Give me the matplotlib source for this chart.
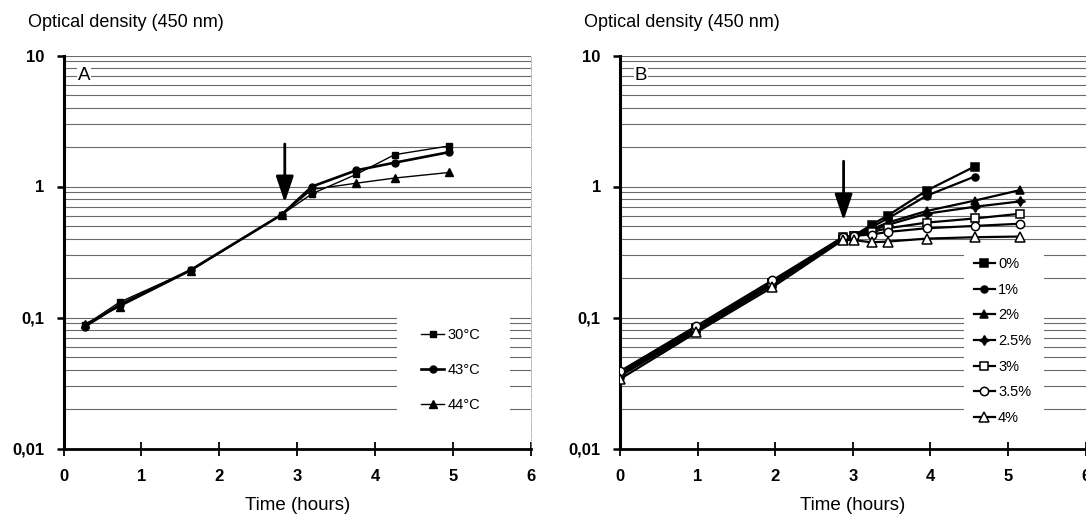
import matplotlib
matplotlib.use('Agg')
import matplotlib.pyplot as plt
from matplotlib.ticker import LogLocator, NullFormatter
from matplotlib.patches import Rectangle

plt.rcParams['font.family'] = ['Liberation Sans', 'DejaVu Sans']

# ---------------- data ----------------
# Panel A : temperature
time_a = [0.27, 0.72, 1.63, 2.80, 3.19, 3.76, 4.25, 4.95]
od_30c = [0.087, 0.131, 0.229, 0.61, 0.88, 1.24, 1.75, 2.04]
od_43c = [0.085, 0.125, 0.230, 0.61, 1.00, 1.33, 1.52, 1.83]
od_44c = [0.089, 0.121, 0.227, 0.61, 0.95, 1.06, 1.16, 1.28]
labels_a = ['30°C', '43°C', '44°C']

# Panel B : concentration
time_b = [0, 0.98, 1.96, 2.87, 3.01, 3.24, 3.45, 3.95, 4.57, 5.16]
od_0 = [0.037, 0.082, 0.182, 0.40, 0.42, 0.51, 0.60, 0.93, 1.42]
od_1 = [0.036, 0.080, 0.179, 0.40, 0.42, 0.49, 0.57, 0.85, 1.19]
od_2 = [0.036, 0.079, 0.178, 0.40, 0.42, 0.47, 0.53, 0.65, 0.78, 0.94]
od_25 = [0.037, 0.081, 0.182, 0.40, 0.42, 0.46, 0.51, 0.62, 0.70, 0.77]
od_3 = [0.038, 0.083, 0.185, 0.41, 0.42, 0.45, 0.48, 0.53, 0.57, 0.62]
od_35 = [0.039, 0.086, 0.192, 0.41, 0.42, 0.43, 0.45, 0.48, 0.50, 0.52]
od_4 = [0.034, 0.077, 0.170, 0.39, 0.39, 0.375, 0.38, 0.40, 0.41, 0.415]
labels_b = ['0%', '1%', '2%', '2.5%', '3%', '3.5%', '4%']

# arrows (time, start OD, tip OD)
arrow_a = (2.84, 2.11, 0.755)
arrow_b = (2.88, 1.56, 0.55)

x_ticks = [0, 1, 2, 3, 4, 5, 6]
y_ticks = [0.01, 0.1, 1, 10]
y_ticklabels = ['0,01', '0,1', '1', '10']

# ---------------- figure ----------------
W, H = 1086, 527
fig = plt.figure(figsize=(W / 100, H / 100), dpi=100)

def px_axes(left, right, top, bottom):
    return fig.add_axes([left / W, 1 - bottom / H, (right - left) / W, (bottom - top) / H])

axA = px_axes(63.5, 531, 55.5, 448.5)
axB = px_axes(620.3, 1085.5, 55.5, 448.5)


def style(ax):
    ax.set_yscale('log')
    ax.set_xlim(0, 6)
    ax.set_ylim(0.01, 10)
    ax.set_xticks(x_ticks, labels=[str(t) for t in x_ticks], fontweight='bold')
    ax.set_yticks(y_ticks, labels=y_ticklabels, fontweight='bold')
    ax.yaxis.set_minor_locator(LogLocator(base=10, subs=range(2, 10)))
    ax.yaxis.set_minor_formatter(NullFormatter())
    ax.tick_params(axis='y', which='minor', length=0)
    ax.tick_params(axis='y', which='major', direction='out', length=5, width=1.8,
                   pad=9, labelsize=12)
    ax.tick_params(axis='x', direction='inout', length=9.5, width=1.3, pad=10,
                   labelsize=12)
    ax.grid(True, axis='y', which='both', color='#6a6a6a', lw=0.8)
    ax.set_axisbelow(True)
    ax.spines['top'].set_visible(False)
    ax.spines['right'].set_color('#9a9a9a')
    ax.spines['right'].set_linewidth(0.6)
    ax.spines['right'].set_linestyle(':')
    ax.spines['left'].set_linewidth(2.2)
    ax.spines['bottom'].set_linewidth(2.0)
    ax.text(0.5, (448.5 - 506) / 393, 'Time (hours)', transform=ax.transAxes,
            ha='center', va='center', fontsize=13.5)


style(axA)
style(axB)

fig.text(28 / W, 1 - 26.7 / H, 'Optical density (450 nm)', fontsize=13, ha='left', va='baseline')
fig.text(584 / W, 1 - 26.7 / H, 'Optical density (450 nm)', fontsize=13, ha='left', va='baseline')

# panel letters
for ax, letter in ((axA, 'A'), (axB, 'B')):
    ax.text(0.044, 0.948, letter, transform=ax.transAxes, fontsize=13.5,
            ha='center', va='center',
            bbox=dict(facecolor='white', edgecolor='none', pad=0.5), zorder=3)

# legend backgrounds (white blocks hiding the grid)
axA.add_patch(Rectangle((4.28, 0.0185), 5.73 - 4.28, 0.104 - 0.0185,
                        facecolor='white', edgecolor='none', zorder=1))
axB.add_patch(Rectangle((4.43, 0.0185), 5.47 - 4.43, 0.35 - 0.0185,
                        facecolor='white', edgecolor='none', zorder=1))

# ---- panel A series
kw = dict(color='black', zorder=3)
axA.plot(time_a, od_30c, marker='s', ms=5, lw=1.0, label=labels_a[0], **kw)
axA.plot(time_a, od_43c, marker='o', ms=5, lw=1.9, label=labels_a[1], **kw)
axA.plot(time_a, od_44c, marker='^', ms=5.5, lw=1.0, label=labels_a[2], **kw)

# ---- panel B series
series_b = [od_0, od_1, od_2, od_25, od_3, od_35, od_4]
markers_b = ['s', 'o', '^', (4, 1, 0), 's', 'o', '^']
faces_b = ['black', 'black', 'black', 'black', 'white', 'white', 'white']
sizes_b = [5.5, 5, 5.5, 7, 6, 6, 6.5]
for vals, lab, mk, fc, ms in zip(series_b, labels_b, markers_b, faces_b, sizes_b):
    axB.plot(time_b[:len(vals)], vals, marker=mk, ms=ms, mfc=fc, mec='black', mew=1.1,
             lw=1.6, label=lab, **kw)

# ---- arrows
for ax, (t, y0, y1) in ((axA, arrow_a), (axB, arrow_b)):
    ax.annotate('', xy=(t, y1), xytext=(t, y0),
                arrowprops=dict(arrowstyle='-|>,head_length=0.8,head_width=0.27',
                                mutation_scale=20, lw=2.0, color='black',
                                shrinkA=0, shrinkB=0), zorder=4)

# ---- legends
legA = axA.legend(loc='upper left', bbox_to_anchor=(0.765, 0.3066), frameon=False,
                  fontsize=10.5, handlelength=1.6, handletextpad=0.2, labelspacing=1.43,
                  borderpad=0, borderaxespad=0, numpoints=1)
legB = axB.legend(loc='upper left', bbox_to_anchor=(0.76, 0.487), frameon=False,
                  fontsize=10.5, handlelength=1.42, handletextpad=0.24, labelspacing=0.80,
                  borderpad=0, borderaxespad=0, numpoints=1)

fig.savefig('out.png', dpi=100)
